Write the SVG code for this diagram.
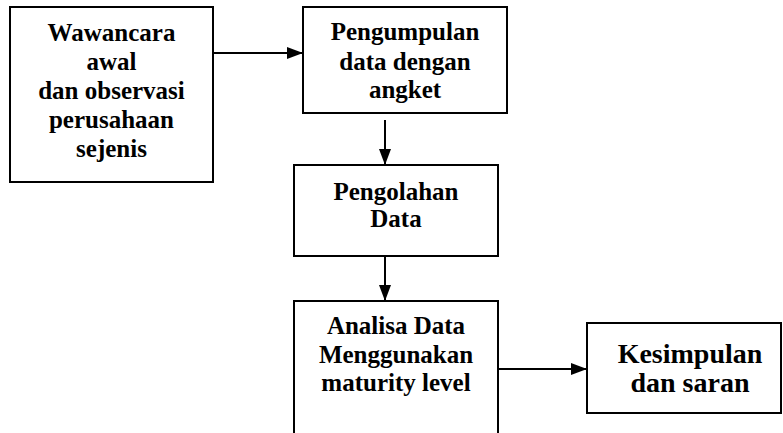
<svg xmlns="http://www.w3.org/2000/svg" width="783" height="433" viewBox="0 0 783 433">
<style>
.box{fill:#fff;stroke:#000;stroke-width:2}
.t{font-family:"Liberation Serif","Times New Roman",serif;font-weight:bold;font-size:25px;fill:#000;text-anchor:middle}
.t2{font-size:28px}
.c{stroke:#000;stroke-width:2;fill:none}
</style>
<defs>
<marker id="ah" viewBox="0 0 16 12" refX="16" refY="6" markerWidth="16" markerHeight="12" markerUnits="userSpaceOnUse" orient="auto">
<path d="M0,0 L16,6 L0,12 Z" fill="#000"/>
</marker>
</defs>
<rect width="783" height="433" fill="#fff"/>
<g id="connectors">
<line class="c" x1="213" y1="53" x2="303" y2="53" marker-end="url(#ah)"/>
<line class="c" x1="385" y1="120" x2="385" y2="165" marker-end="url(#ah)"/>
<line class="c" x1="385" y1="256" x2="385" y2="301" marker-end="url(#ah)"/>
<line class="c" x1="498" y1="369" x2="587" y2="369" marker-end="url(#ah)"/>
</g>
<g id="n1">
<rect class="box" x="10" y="7" width="203" height="175"/>
<text class="t" x="111.5" y="41">Wawancara</text>
<text class="t" x="111.5" y="70">awal</text>
<text class="t" x="111.5" y="99">dan observasi</text>
<text class="t" x="111.5" y="128">perusahaan</text>
<text class="t" x="111.5" y="157">sejenis</text>
</g>
<g id="n2">
<rect class="box" x="303" y="7" width="204" height="106"/>
<text class="t" x="405" y="40">Pengumpulan</text>
<text class="t" x="405" y="70">data dengan</text>
<text class="t" x="405" y="98">angket</text>
</g>
<g id="n3">
<rect class="box" x="294" y="165" width="204" height="91"/>
<text class="t" x="396" y="200">Pengolahan</text>
<text class="t" x="396" y="227">Data</text>
</g>
<g id="n4">
<path class="box" d="M294,434 L294,301 L498,301 L498,434"/>
<text class="t" x="396" y="334">Analisa Data</text>
<text class="t" x="396" y="363">Menggunakan</text>
<text class="t" x="396" y="391">maturity level</text>
</g>
<g id="n5">
<rect class="box" x="587" y="323" width="194" height="90"/>
<text class="t t2" x="690" y="363">Kesimpulan</text>
<text class="t t2" x="690" y="392">dan saran</text>
</g>
</svg>
